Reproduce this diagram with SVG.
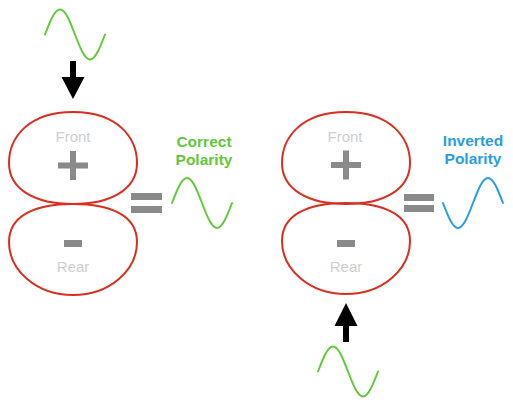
<svg xmlns="http://www.w3.org/2000/svg" width="513" height="406" viewBox="0 0 513 406">
<style>
.lobe{fill:none;stroke:#dc2e1e;stroke-width:2}
.wave{fill:none;stroke-width:2;stroke-linecap:round}
.g{stroke:#66c83c}
.b{stroke:#2a9ee2}
.sym{fill:#8a8a8a}
.lbl{font-family:"Liberation Sans",Arial,sans-serif;font-size:15px;fill:#cfcfcf;text-anchor:middle}
.pol{font-family:"Liberation Sans",Arial,sans-serif;font-size:15.5px;font-weight:bold;text-anchor:middle}
.arr{fill:#000}
</style>
<defs>
<path id="sine" d="M0 0c4.89-12.81 9.57-25 15-25c5.43 0 10.11 12.19 15 25c4.89 12.81 9.57 25 15 25c5.43 0 10.11-12.19 15-25"/>
<path id="top" d="M0 0C45 0 64 26 64 51C64 78 37 92 0 92C-37 92-64 78-64 51C-64 26-45 0 0 0Z"/>
<path id="bot" d="M0 0C37 0 64 11 64 38C64 66 37 91 0 91C-37 91-64 66-64 38C-64 11-37 0 0 0Z"/>
</defs>
<g id="left-front">
<use href="#top" class="lobe" x="73" y="112"/>
<text class="lbl" x="73" y="142">Front</text>
<rect class="sym" x="58" y="162.5" width="30" height="6"/>
<rect class="sym" x="70" y="151" width="6" height="29"/>
</g>
<g id="left-rear">
<use href="#bot" class="lobe" x="73" y="204"/>
<rect class="sym" x="64" y="240" width="18" height="7"/>
<text class="lbl" x="73" y="272">Rear</text>
</g>
<g id="left-equals">
<rect class="sym" x="131" y="193" width="31" height="7"/>
<rect class="sym" x="131" y="206" width="31" height="7"/>
</g>
<g id="left-input-wave">
<use href="#sine" class="wave g" x="45" y="34.5"/>
</g>
<g id="left-result">
<text class="pol" x="204" y="147" fill="#62c83a">Correct</text>
<text class="pol" x="204" y="165" fill="#62c83a">Polarity</text>
<use href="#sine" class="wave g" x="172" y="203"/>
</g>
<g id="right-front">
<use href="#top" class="lobe" x="346" y="112"/>
<text class="lbl" x="345" y="142">Front</text>
<rect class="sym" x="331" y="162" width="30" height="6"/>
<rect class="sym" x="343" y="150.5" width="6" height="29"/>
</g>
<g id="right-rear">
<use href="#bot" class="lobe" x="346" y="203"/>
<rect class="sym" x="337" y="240" width="18" height="7"/>
<text class="lbl" x="346" y="272">Rear</text>
</g>
<g id="right-equals">
<rect class="sym" x="404" y="194" width="30" height="7"/>
<rect class="sym" x="404" y="205" width="30" height="7"/>
</g>
<g id="right-result">
<text class="pol" x="473" y="146" fill="#2a9ee2">Inverted</text>
<text class="pol" x="473" y="164" fill="#2a9ee2">Polarity</text>
<use href="#sine" class="wave b" transform="translate(443 203) scale(1 -1)"/>
</g>
<g id="right-input-wave">
<use href="#sine" class="wave g" x="318" y="371.5"/>
</g>
<g id="connectors">
<path class="arr" d="M70 61H76V77H84.5L73 99L61.5 77H70Z"/>
<path class="arr" d="M343 342H349V326H357.5L346 303L334.5 326H343Z"/>
</g>
</svg>
